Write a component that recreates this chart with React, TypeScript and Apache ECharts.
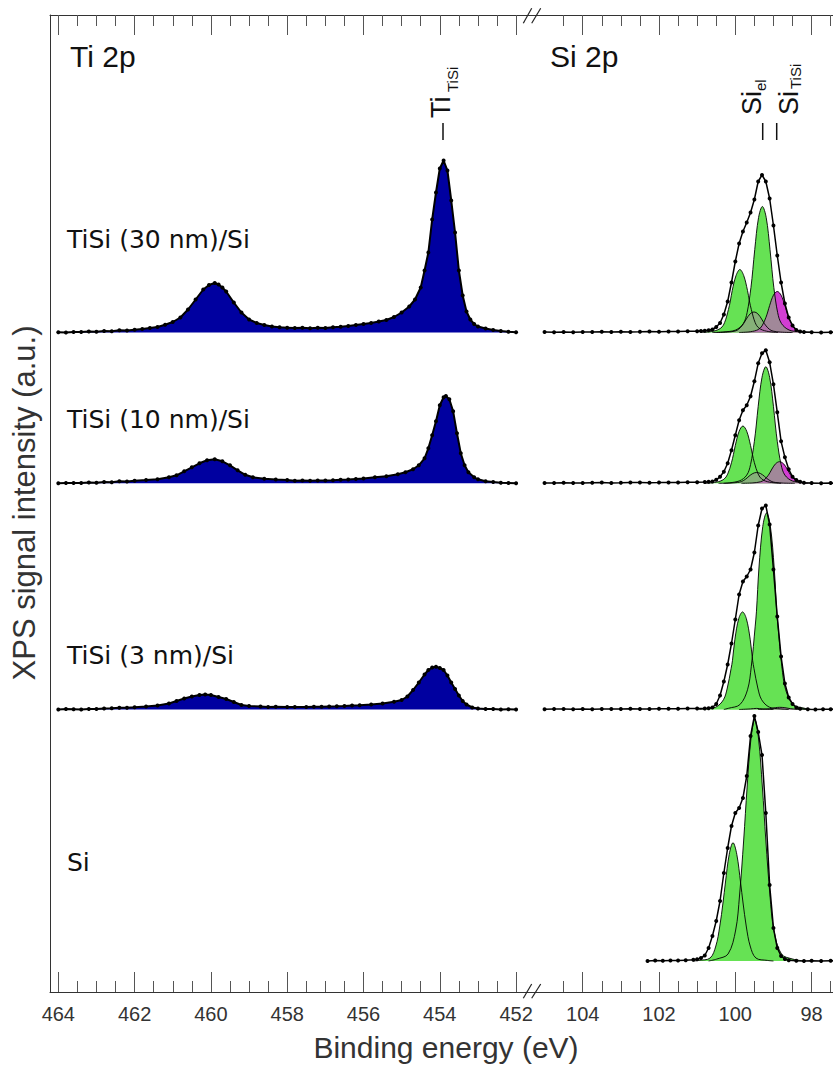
import React, { useEffect, useRef } from 'react';
import * as echarts from 'echarts';

// ---------- axes ----------
const tiMajorTicks = [464, 462, 460, 458, 456, 454, 452];
const tiMinorTicks = [463.5, 463, 462.5, 461.5, 461, 460.5, 459.5, 459, 458.5, 457.5, 457, 456.5, 455.5, 455, 454.5, 453.5, 453, 452.5];
const siMajorTicks = [104, 102, 100, 98];
const siMinorTicks = [104.5, 103.5, 103, 102.5, 101.5, 101, 100.5, 99.5, 99, 98.5, 97.5];
const tiRange = [451.583, 464.218];
const siRange = [97.439, 105.329];

// ---------- samples ----------
const sampleLabels = ['TiSi (30 nm)/Si', 'TiSi (10 nm)/Si', 'TiSi (3 nm)/Si', 'Si'];
const offsets = [659.5, 508.7, 282.5, 31];

// ---------- Ti 2p measured spectra [binding energy, intensity] ----------
const ti30 = [[464.0,0.3],[463.8,0.1],[463.6,0.6],[463.4,0.4],[463.2,1.0],[463.0,0.8],[462.8,1.5],[462.6,1.3],[462.4,2.2],[462.2,2.0],[462.0,2.8],[461.8,3.4],[461.6,4.4],[461.4,5.5],[461.2,7.8],[461.0,10.5],[460.8,15],[460.6,23],[460.4,33],[460.2,43],[460.05,47.5],[459.9,49.5],[459.8,48],[459.7,45],[459.6,41],[459.4,30],[459.2,20],[459.0,13],[458.8,9.5],[458.6,7.5],[458.4,6],[458.2,5.2],[458.0,4.8],[457.8,4.4],[457.6,4.7],[457.4,4.3],[457.2,4.8],[457.0,4.6],[456.8,5.2],[456.6,5.8],[456.4,6.6],[456.2,7.5],[456.0,8.4],[455.8,9.6],[455.6,11],[455.4,12.5],[455.2,15.5],[455.0,20],[454.8,26],[454.65,33],[454.5,45],[454.4,62],[454.3,80],[454.2,113],[454.1,140],[454.0,164],[453.9,172],[453.8,162],[453.7,132],[453.6,100],[453.5,62],[453.4,37],[453.3,21],[453.2,13],[453.1,8.5],[453.0,6],[452.8,4],[452.6,2.5],[452.4,1.6],[452.2,0.8],[452.0,0.2]];
const ti10 = [[464.0,0],[463.8,0.3],[463.6,0.4],[463.4,0.2],[463.2,0.8],[463.0,0.6],[462.8,1.4],[462.6,1.1],[462.4,2],[462.2,1.8],[462.0,2.5],[461.7,3.2],[461.4,4],[461.1,6],[460.9,8],[460.7,12],[460.5,16],[460.3,20],[460.1,23],[459.9,24],[459.7,22],[459.5,18],[459.3,13],[459.1,8.5],[458.9,6],[458.6,4.5],[458.3,3.8],[458.0,3.2],[457.8,2.6],[457.6,2.9],[457.4,2.5],[457.2,2.7],[457.0,2.8],[456.8,3],[456.6,3.5],[456.4,3.8],[456.2,4.4],[456.0,4.8],[455.7,6],[455.4,7],[455.1,9],[454.9,11],[454.7,14],[454.55,18],[454.4,25],[454.3,35],[454.2,48],[454.1,62],[454.0,78],[453.9,86],[453.84,87.3],[453.75,84],[453.65,72],[453.55,50],[453.45,30],[453.35,18],[453.25,11],[453.1,6],[453.0,4],[452.8,2],[452.6,1.3],[452.4,0.6],[452.2,0.3],[452.0,0]];
const ti3 = [[464.0,0],[463.8,0.4],[463.6,0.3],[463.4,0.1],[463.2,0.6],[463.0,0.5],[462.8,1],[462.6,1.2],[462.4,1.7],[462.2,1.8],[462.0,2.2],[461.7,3],[461.4,4],[461.1,6],[460.9,8.5],[460.7,11],[460.5,13],[460.3,14.5],[460.15,15],[460.0,14.5],[459.8,12.5],[459.6,10.5],[459.4,7.5],[459.2,4.5],[459.0,3.5],[458.7,3],[458.5,2.6],[458.3,2.7],[458.0,2.4],[457.8,2.6],[457.5,2.5],[457.3,2.7],[457.1,2.8],[456.9,3],[456.7,3.2],[456.5,3.5],[456.3,3.9],[456.1,4.2],[455.8,5],[455.5,6],[455.2,7.8],[455.0,9.5],[454.85,13],[454.7,19.5],[454.55,27],[454.4,35],[454.3,39.5],[454.2,42],[454.1,42.7],[454.0,41.5],[453.9,39.5],[453.8,34],[453.7,27],[453.6,20.5],[453.5,14],[453.4,8.5],[453.3,5],[453.15,2],[453.0,1],[452.8,0.6],[452.6,0.4],[452.4,0.1],[452.2,0.2],[452.0,0]];

// ---------- Si 2p measured spectra ----------
const si30 = [[105.0,0.5],[104.75,0.2],[104.5,0.6],[104.25,0.3],[104.0,0.6],[103.75,0.4],[103.5,0.7],[103.25,0.5],[103.0,0.8],[102.75,0.6],[102.5,0.7],[102.25,0.9],[102.0,0.8],[101.75,1.0],[101.5,1.0],[101.25,1.2],[101.0,1.2],[100.9,1.4],[100.8,1.8],[100.7,2.2],[100.6,3],[100.5,5.5],[100.4,9.5],[100.3,18],[100.2,31],[100.1,50],[100.0,71],[99.9,89],[99.8,101],[99.7,110],[99.6,120],[99.5,133],[99.4,151],[99.3,157.5],[99.2,151],[99.1,134],[99.0,107],[98.9,77],[98.8,50],[98.7,29],[98.6,15],[98.5,7],[98.4,2.5],[98.3,1],[98.2,0.4],[98.0,0.2],[97.75,0.1],[97.5,0.3],[97.25,0]];
const si10 = [[105.0,0.4],[104.75,0.2],[104.5,0.6],[104.25,0.4],[104.0,0.3],[103.75,0.6],[103.5,0.7],[103.25,0.4],[103.0,0.5],[102.75,0.8],[102.5,0.8],[102.25,0.6],[102.0,0.7],[101.75,0.9],[101.5,0.9],[101.25,1.0],[101.0,1.1],[100.8,1.2],[100.7,1.5],[100.6,1.8],[100.5,3.5],[100.4,6.5],[100.3,11.5],[100.2,20],[100.1,33],[100.0,48],[99.9,63],[99.8,73],[99.7,78],[99.6,87],[99.5,102],[99.4,120],[99.3,130],[99.2,133],[99.1,121],[99.0,99],[98.9,71],[98.8,42],[98.7,26],[98.6,14],[98.5,6.5],[98.4,3.3],[98.3,1.5],[98.2,0.6],[98.0,0.2],[97.75,0],[97.5,0.2],[97.25,0]];
const si3 = [[105.0,0.3],[104.75,0.6],[104.5,0.4],[104.25,0.2],[104.0,0.5],[103.75,0.3],[103.5,0.6],[103.25,0.4],[103.0,0.4],[102.75,0.7],[102.5,0.6],[102.25,0.5],[102.0,0.7],[101.75,0.8],[101.5,0.7],[101.25,0.9],[101.0,0.9],[100.8,1],[100.7,1.2],[100.6,2],[100.5,5.5],[100.4,14],[100.3,28],[100.2,45],[100.1,66],[100.0,90],[99.9,115],[99.8,128],[99.7,133],[99.6,140],[99.5,157],[99.4,184],[99.3,201],[99.2,204],[99.1,185],[99.0,140],[98.9,93],[98.8,53],[98.7,26],[98.6,12],[98.5,5.5],[98.4,2],[98.3,0.8],[98.1,0.3],[97.9,0],[97.7,0.2],[97.5,0.3],[97.25,0]];
const siBare = [[102.3,0],[102.1,0.5],[101.9,0.2],[101.7,0.6],[101.5,0.4],[101.3,0.8],[101.1,1.2],[101.0,1.8],[100.9,3],[100.8,5.5],[100.7,13],[100.6,25],[100.5,40],[100.4,60],[100.3,88],[100.2,113],[100.1,135],[100.0,148],[99.9,153],[99.8,163],[99.7,185],[99.6,225],[99.5,245],[99.4,229],[99.3,206],[99.2,148],[99.1,76],[99.0,33],[98.9,13],[98.8,5],[98.7,2],[98.6,0.8],[98.4,0.2],[98.2,0],[98.0,0.2],[97.75,0],[97.5,0.3],[97.25,0]];

// ---------- Si 2p fit components ----------
const si30El32 = [[100.6,0],[100.3,0.6],[99.99,2.5],[99.79,9],[99.69,20],[99.59,45],[99.54,63],[99.49,83],[99.39,115],[99.29,126],[99.19,115],[99.09,83],[99.04,63],[98.99,45],[98.89,20],[98.79,9],[98.59,2.5],[98.29,0.6],[98.0,0]];
const si30El12 = [[100.9,0],[100.58,1.3],[100.38,4.4],[100.28,10],[100.18,23],[100.13,31.5],[100.08,42],[99.98,57],[99.88,63],[99.78,57],[99.68,42],[99.63,31.5],[99.58,23],[99.48,10],[99.38,4.4],[99.18,1.3],[98.88,0]];
const si30Ti32 = [[99.9,0],[99.6,0.8],[99.4,2.9],[99.3,6.6],[99.2,14.8],[99.15,20.5],[99.1,27],[99.0,37.3],[98.9,41],[98.8,37.3],[98.7,27],[98.65,20.5],[98.6,14.8],[98.5,6.6],[98.4,2.9],[98.2,0.8],[97.9,0]];
const si30Ti12 = [[100.5,0],[100.21,0.4],[100.01,1.4],[99.91,3.3],[99.81,7.4],[99.76,10.3],[99.71,13.5],[99.61,18.7],[99.51,20.5],[99.41,18.7],[99.31,13.5],[99.26,10.3],[99.21,7.4],[99.11,3.3],[99.01,1.4],[98.81,0.4],[98.5,0]];
const si10El32 = [[100.3,0],[99.9,2.3],[99.7,8.2],[99.6,18.7],[99.5,42],[99.45,58.3],[99.4,77],[99.3,106],[99.2,116.6],[99.1,106],[99.0,77],[98.95,58.3],[98.9,42],[98.8,18.7],[98.7,8.2],[98.5,2.3],[98.1,0]];
const si10El12 = [[100.8,0],[100.5,1.1],[100.3,4],[100.2,9.2],[100.1,20.6],[100.05,28.7],[100.0,37.8],[99.9,52],[99.8,57.3],[99.7,52],[99.6,37.8],[99.55,28.7],[99.5,20.6],[99.4,9.2],[99.3,4],[99.1,1.1],[98.8,0]];
const si10Ti32 = [[99.84,0],[99.54,0.4],[99.34,1.5],[99.24,3.5],[99.14,7.8],[99.09,10.8],[99.04,14.3],[98.94,19.7],[98.84,21.6],[98.74,19.7],[98.64,14.3],[98.59,10.8],[98.54,7.8],[98.44,3.5],[98.34,1.5],[98.14,0.4],[97.84,0]];
const si10Ti12 = [[100.44,0],[100.14,0.2],[99.94,0.8],[99.84,1.7],[99.74,3.9],[99.69,5.4],[99.64,7.1],[99.54,9.8],[99.44,10.8],[99.34,9.8],[99.24,7.1],[99.19,5.4],[99.14,3.9],[99.04,1.7],[98.94,0.8],[98.74,0.2],[98.44,0]];
const si3El32 = [[100.3,0],[100.18,1.2],[99.88,4.9],[99.68,19.7],[99.58,43.3],[99.48,82.6],[99.445,98.3],[99.38,141.5],[99.28,183],[99.18,196.6],[99.08,183],[98.98,141.5],[98.915,98.3],[98.88,82.6],[98.78,43.3],[98.68,19.7],[98.48,4.9],[98.18,1.2],[98.0,0]];
const si3El12 = [[100.95,0],[100.81,0.6],[100.51,2.4],[100.31,9.8],[100.21,21.5],[100.11,41],[100.075,48.8],[100.01,70.3],[99.91,90.8],[99.81,97.6],[99.71,90.8],[99.61,70.3],[99.545,48.8],[99.51,41],[99.41,21.5],[99.31,9.8],[99.11,2.4],[98.81,0.6],[98.6,0]];
const si3Ti32 = [[99.4,0],[99.1,0.8],[98.95,1.8],[98.84,2.2],[98.7,1.8],[98.55,0.8],[98.3,0]];
const si3Ti12 = [[99.9,0],[99.6,0.6],[99.44,1.1],[99.3,0.6],[99.0,0]];
const siBareEl32 = [[100.7,0],[100.49,1.9],[100.19,7],[99.99,31],[99.89,65],[99.78,121],[99.69,174],[99.59,222],[99.49,241.7],[99.39,222],[99.29,174],[99.2,121],[99.09,65],[98.99,31],[98.79,7],[98.49,1.9],[98.2,0]];
const siBareEl12 = [[101.1,0],[100.96,0.6],[100.66,3],[100.51,15],[100.41,34],[100.32,59],[100.26,78],[100.16,106.5],[100.06,118.3],[99.96,106.5],[99.86,78],[99.8,59],[99.71,34],[99.61,15],[99.46,3],[99.16,0.6],[99.0,0]];

const tiSpectra = [ti30, ti10, ti3];
const siSpectra = [si30, si10, si3, siBare];
const siEl32 = [si30El32, si10El32, si3El32, siBareEl32];
const siEl12 = [si30El12, si10El12, si3El12, siBareEl12];
const siTi32 = [si30Ti32, si10Ti32, si3Ti32, null];
const siTi12 = [si30Ti12, si10Ti12, si3Ti12, null];

// ---------- colours ----------
const TI_BLUE = '#0000a0';
const GREEN = '#66e254';
const MAGENTA = '#d23ed2';

const shift = (arr: number[][], off: number) => arr.map(([e, h]) => [e, h + off]);

function xAxis(grid: number, range: number[], ticks: number[], len: number, labels: boolean, pos: string, line: boolean) {
  return {
    type: 'value', gridIndex: grid, min: range[0], max: range[1], inverse: true, position: pos,
    axisLine: { show: line, onZero: false, lineStyle: { color: '#333', width: 1 } },
    axisTick: { show: true, inside: true, length: len, customValues: ticks, lineStyle: { color: '#555', width: 1 } },
    axisLabel: labels
      ? { show: true, customValues: ticks, fontSize: 20, color: '#333', fontFamily: 'Liberation Sans', margin: 12 }
      : { show: false },
    splitLine: { show: false },
  };
}

function fillSeries(data: number[][], off: number, xi: number, yi: number, color: string, opacity: number, outline: boolean) {
  return {
    type: 'line', xAxisIndex: xi, yAxisIndex: yi, data: shift(data, off), smooth: 0.35,
    symbol: 'none', silent: true,
    lineStyle: { color: '#000', width: outline ? 0.9 : 0, opacity: outline ? 1 : 0 },
    areaStyle: { color, opacity, origin: off },
  };
}

function dataSeries(data: number[][], off: number, xi: number, yi: number, size: number, width: number, fill?: string) {
  const s: any = {
    type: 'line', xAxisIndex: xi, yAxisIndex: yi, data: shift(data, off), smooth: false,
    symbol: 'circle', symbolSize: size, showSymbol: true, showAllSymbol: true, silent: true,
    itemStyle: { color: '#000' }, lineStyle: { color: '#000', width },
  };
  if (fill) s.areaStyle = { color: fill, opacity: 1, origin: off };
  return s;
}

function buildSeries() {
  const series: any[] = [];
  tiSpectra.forEach((d, i) => series.push(dataSeries(d, offsets[i], 0, 0, 4, 2, TI_BLUE)));
  siSpectra.forEach((d, i) => {
    const off = offsets[i];
    const t32 = siTi32[i];
    const t12 = siTi12[i];
    if (t32) series.push(fillSeries(t32, off, 4, 1, MAGENTA, 1, false));
    series.push(fillSeries(siEl12[i], off, 4, 1, GREEN, 1, true));
    series.push(fillSeries(siEl32[i], off, 4, 1, GREEN, 1, true));
    if (t32) series.push(fillSeries(t32, off, 4, 1, MAGENTA, 0.55, true));
    if (t12) series.push(fillSeries(t12, off, 4, 1, MAGENTA, 0.3, true));
    series.push(dataSeries(d, off, 4, 1, 4, 1.5));
  });
  return series;
}

function txt(x: number, y: number, text: string, size: number, family: string, extra: any = {}) {
  return {
    type: 'text', x, y, z: 100, ...extra,
    style: { text, fontSize: size, fontFamily: family, fill: '#111', align: 'left', verticalAlign: 'middle', ...(extra.style || {}) },
  };
}

function buildGraphic() {
  const g: any[] = [];
  // panel titles
  g.push(txt(70, 56, 'Ti 2p', 30, 'Liberation Sans'));
  g.push(txt(550, 56, 'Si 2p', 30, 'Liberation Sans'));
  // sample labels
  const labelY = [239, 419.5, 655.7, 862.4];
  sampleLabels.forEach((t, i) => g.push(txt(67, labelY[i], t, 25, 'DejaVu Sans')));
  // y label
  g.push({
    type: 'text', x: 24, y: 503, rotation: Math.PI / 2, z: 100,
    style: { text: 'XPS signal intensity (a.u.)', fontSize: 31, fontFamily: 'Liberation Sans', fill: '#333', align: 'center', verticalAlign: 'middle' },
  });
  // x label
  g.push({
    type: 'text', x: 446, y: 1047, z: 100,
    style: { text: 'Binding energy (eV)', fontSize: 30, fontFamily: 'Liberation Sans', fill: '#333', align: 'center', verticalAlign: 'middle' },
  });
  // peak annotations (rotated)
  const rot = { rotation: Math.PI / 2 };
  g.push(txt(441, 118, 'Ti', 27, 'Liberation Sans', rot));
  g.push(txt(452, 92, 'TiSi', 15, 'Liberation Sans', rot));
  g.push(txt(751.5, 115, 'Si', 27, 'Liberation Sans', rot));
  g.push(txt(760, 91, 'el', 15, 'Liberation Sans', rot));
  g.push(txt(788.5, 115, 'Si', 27, 'Liberation Sans', rot));
  g.push(txt(795, 89, 'TiSi', 15, 'Liberation Sans', rot));
  [443, 762.7, 776.7].forEach((x) => g.push({
    type: 'line', z: 100, shape: { x1: x, y1: 123, x2: x, y2: 140 }, style: { stroke: '#111', lineWidth: 1.5 },
  }));
  // axis break marks
  [[23.3, 8.3], [998.3, 984]].forEach(([yb, yt]) => {
    g.push({ type: 'line', z: 100, shape: { x1: 523.3, y1: yb, x2: 531.7, y2: yt }, style: { stroke: '#222', lineWidth: 1.2 } });
    g.push({ type: 'line', z: 100, shape: { x1: 531.7, y1: yb, x2: 540.7, y2: yt }, style: { stroke: '#222', lineWidth: 1.2 } });
  });
  return g;
}

export default function App() {
  const ref = useRef<HTMLDivElement>(null);
  useEffect(() => {
    document.body.style.margin = '0';
    const chart = echarts.init(ref.current as HTMLDivElement, null, { renderer: 'svg' });
    chart.setOption({
      animation: false,
      backgroundColor: '#fff',
      grid: [
        { left: 50, top: 15, width: 482, height: 977 },
        { left: 532, top: 15, width: 301, height: 977 },
      ],
      xAxis: [
        xAxis(0, tiRange, tiMajorTicks, 20, true, 'bottom', true),
        xAxis(0, tiRange, tiMinorTicks, 11, false, 'bottom', false),
        xAxis(0, tiRange, tiMajorTicks, 20, false, 'top', true),
        xAxis(0, tiRange, tiMinorTicks, 11, false, 'top', false),
        xAxis(1, siRange, siMajorTicks, 20, true, 'bottom', true),
        xAxis(1, siRange, siMinorTicks, 11, false, 'bottom', false),
        xAxis(1, siRange, siMajorTicks, 20, false, 'top', true),
        xAxis(1, siRange, siMinorTicks, 11, false, 'top', false),
      ],
      yAxis: [
        { type: 'value', gridIndex: 0, min: 0, max: 977, axisLine: { show: true, onZero: false, lineStyle: { color: '#333' } }, axisTick: { show: false }, axisLabel: { show: false }, splitLine: { show: false } },
        { type: 'value', gridIndex: 1, min: 0, max: 977, show: false, splitLine: { show: false } },
      ],
      series: buildSeries(),
      graphic: buildGraphic(),
    });
    return () => chart.dispose();
  }, []);
  return <div ref={ref} style={{ width: 833, height: 1068 }} />;
}
